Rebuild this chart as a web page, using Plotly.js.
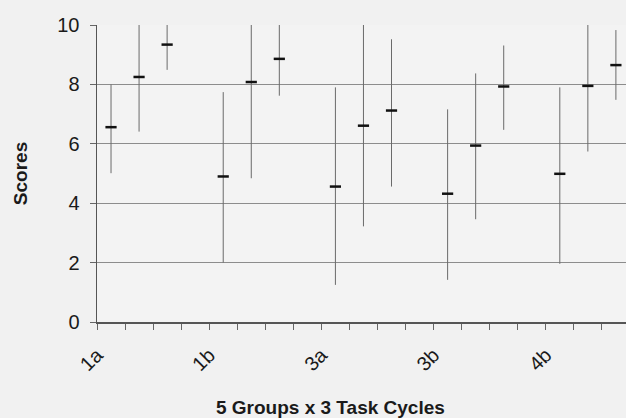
<!DOCTYPE html>
<html>
<head>
<meta charset="utf-8">
<script src="https://cdn.plot.ly/plotly-3.0.1.min.js"></script>
<style>
html,body{margin:0;padding:0;background:#f1f1f1;}
#chart{width:626px;height:418px;}
</style>
</head>
<body>
<div id="chart"></div>
<script>
// 5 groups x 3 task cycles: high / low / close
var groups = ['1a', '1b', '3a', '3b', '4b'];
var cycles = [1, 2, 3];
var closeVals = [
  [6.56, 8.25, 9.34],
  [4.90, 8.08, 8.86],
  [4.56, 6.61, 7.12],
  [4.32, 5.94, 7.93],
  [4.99, 7.95, 8.65]
];
var highVals = [
  [8.00, 10.0, 10.0],
  [7.74, 10.0, 10.0],
  [7.90, 10.0, 9.52],
  [7.16, 8.37, 9.31],
  [7.90, 10.0, 9.83]
];
var lowVals = [
  [5.01, 6.41, 8.49],
  [2.00, 4.84, 7.62],
  [1.25, 3.22, 4.56],
  [1.42, 3.46, 6.47],
  [1.96, 5.74, 7.48]
];
var yTicks = [0, 2, 4, 6, 8, 10];

// category slots: each group takes 3 cycles + 1 blank slot
var slotsPerGroup = cycles.length + 1;
var xs = [], cs = [], up = [], dn = [];
groups.forEach(function (g, gi) {
  cycles.forEach(function (c, ci) {
    xs.push(gi * slotsPerGroup + ci);
    cs.push(closeVals[gi][ci]);
    up.push(highVals[gi][ci] - closeVals[gi][ci]);
    dn.push(closeVals[gi][ci] - lowVals[gi][ci]);
  });
});
var labelPos = groups.map(function (g, gi) { return gi * slotsPerGroup; });

var FONT = 'Liberation Sans, Arial, sans-serif';

var trace = {
  type: 'scatter',
  mode: 'markers',
  x: xs,
  y: cs,
  marker: {symbol: 'line-ew', size: 8, line: {width: 2.5, color: '#111'}},
  error_y: {
    type: 'data', symmetric: false, array: up, arrayminus: dn,
    width: 0, thickness: 1, color: '#6a6a6a'
  },
  hoverinfo: 'x+y',
  showlegend: false
};

var layout = {
  width: 626, height: 418,
  margin: {l: 97, r: 0, t: 25, b: 96},
  paper_bgcolor: '#f1f1f1',
  plot_bgcolor: '#f3f3f3',
  font: {family: FONT, color: '#1a1a1a'},
  xaxis: {
    range: [-0.5, 18.36],
    tickmode: 'array', tickvals: labelPos, ticktext: groups,
    tickangle: -45, ticks: '', showgrid: false, zeroline: false,
    showline: true, linecolor: '#555', linewidth: 1.5,
    ticklabelshift: -14, ticklabelstandoff: 12,
    tickfont: {size: 20, family: FONT, color: '#1a1a1a'},
    minor: {tick0: -0.5, dtick: 1, ticks: 'outside', ticklen: 6, tickcolor: '#666', tickwidth: 1, showgrid: false}
  },
  yaxis: {
    range: [0, 10], tickmode: 'array', tickvals: yTicks,
    ticks: 'outside', ticklen: 6, tickcolor: '#666',
    ticklabelstandoff: 6,
    showgrid: true, gridcolor: '#8c8c8c', gridwidth: 1,
    zeroline: false, showline: true, linecolor: '#555', linewidth: 1.5,
    tickfont: {size: 20, family: FONT, color: '#1a1a1a'},
    title: {text: '<b>Scores</b>', font: {size: 19, family: FONT, color: '#1a1a1a'}, standoff: 24}
  },
  annotations: [{
    text: '<b>5 Groups x 3 Task Cycles</b>',
    xref: 'paper', yref: 'paper',
    x: (330 - 97) / 529, y: -0.289,
    xanchor: 'center', yanchor: 'middle', showarrow: false,
    font: {size: 19, family: FONT, color: '#1a1a1a'}
  }]
};

Plotly.newPlot('chart', [trace], layout, {displayModeBar: false, staticPlot: true});
</script>
</body>
</html>
